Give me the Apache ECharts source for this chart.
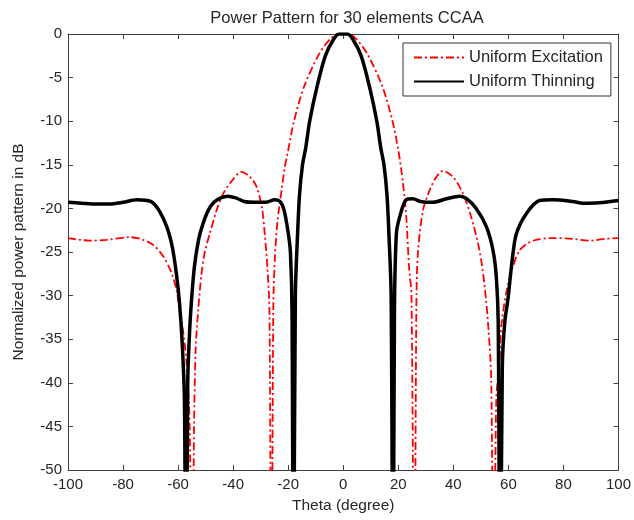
<!DOCTYPE html>
<html>
<head>
<meta charset="utf-8">
<script src="https://cdn.jsdelivr.net/npm/echarts@6/dist/echarts.min.js"></script>
<style>
  html, body { margin: 0; padding: 0; background: #fff; }
  #chart { width: 634px; height: 520px; }
</style>
</head>
<body>
<div id="chart"></div>
<script>
// Uniform Thinning (black solid)
var thinTheta = [-100, -95, -90, -85, -80, -75, -70, -67, -64, -62, -60.5, -59.5, -58.5, -57.7, -57.1, -56.5, -55.8, -55, -54, -52.5, -51, -49, -47, -44.5, -42, -39, -36, -32, -28, -25, -23, -21.5, -20, -19.2, -18.6, -18.1, -17.4, -16.6, -15.9, -14.8, -13.6, -12.2, -9.5, -6.5, -3.5, -1.5, 0,
  1.5, 3.5, 6.5, 9.5, 12.2, 13.6, 14.8, 15.9, 16.6, 17.4, 18.1, 18.6, 19.3, 20.5, 22.9, 25.3, 28, 32.6, 37.5, 42.3, 44.7, 48.3, 52, 54.4, 55.6, 56.3, 57, 57.8, 58.7, 59.8, 61.4, 62.9, 66.5, 71.3, 76.2, 83.4, 87, 93, 100];
var thinDb = [-19.3, -19.4, -19.5, -19.5, -19.3, -19.0, -19.2, -20.2, -22.2, -24.6, -27.8, -30.8, -35.5, -42, -70, -40, -34, -30, -26.5, -23.5, -21.8, -20.2, -19.3, -18.8, -18.6, -18.8, -19.2, -19.3, -19.3, -19.0, -19.2, -20.2, -22.8, -25, -32, -70, -30, -23, -18.5, -15, -13, -10, -6, -2.5, -0.6, 0, 0,
  0, -0.6, -2.5, -6, -10, -13, -15, -18.5, -23, -30, -70, -32, -22.9, -21, -19.0, -18.9, -19.2, -19.3, -18.9, -18.6, -18.85, -20, -22.1, -24.8, -27.8, -33, -70, -38, -33, -30.5, -25.9, -22.9, -20.6, -19.1, -19.0, -19.2, -19.4, -19.35, -19.1];

// Uniform Excitation (red dash-dot)
var excTheta = [-100, -92, -86, -77.5, -72.7, -69, -65.4, -62.4, -60.5, -58.4, -57, -55.8, -54.9, -54.2, -53.6, -52.7, -51.5, -50.3, -48.5, -46, -43.6, -40.6, -37, -33.9, -31.5, -29.5, -28.5, -27.5, -26.8, -26.1, -25.4, -24.8, -23.9, -22.4, -21.2, -20.1, -17.9, -14.2, -8.6, -4.5, -2, 0,
  2, 4.5, 8.6, 14.2, 17.9, 20.1, 21.7, 22.9, 23.9, 24.8, 25.8, 26.6, 27.2, 29, 31.4, 33.8, 36.2, 39.9, 43.5, 46.5, 49.5, 51.4, 52.8, 53.8, 54.6, 55.6, 56.8, 57.4, 59.2, 61.6, 64.1, 67, 70.1, 76.2, 83.4, 89.5, 95, 100];
var excDb = [-23.4, -23.7, -23.6, -23.3, -23.6, -24.2, -25.5, -27.4, -29.5, -33.6, -37.4, -45, -70, -45, -36, -31.7, -27.5, -25, -22.9, -20.2, -18.3, -16.9, -15.8, -16.4, -17.5, -20, -23, -27, -32, -70, -31, -25.5, -21.5, -17.9, -15.2, -13.5, -10, -6, -2.2, -0.5, 0, 0,
  0, -0.5, -2.2, -6, -10, -13.5, -17.1, -21, -26.7, -30.1, -70, -30.1, -24.8, -20.2, -17.9, -16.4, -15.7, -16.4, -18.3, -21, -24.8, -29, -34, -40, -70, -42, -37.4, -33.6, -29.7, -26.7, -24.8, -24, -23.6, -23.4, -23.5, -23.7, -23.5, -23.4];

function pairs(xs, ys) {
  return xs.map(function (x, i) { return [x, ys[i]] })
}

var fontFam = 'Liberation Sans, Arial, sans-serif'
var axisCol = '#404040'
var txtCol = '#262626'

var chart = echarts.init(document.getElementById('chart'), null, { renderer: 'canvas' })

var baseX = {
  type: 'value', min: -100, max: 100, interval: 20,
  axisLine: { show: true, onZero: false, lineStyle: { color: axisCol, width: 1 } },
  axisTick: { show: true, inside: true, length: 5, lineStyle: { color: axisCol } },
  splitLine: { show: false }
}
var baseY = {
  type: 'value', min: -50, max: 0, interval: 5,
  axisLine: { show: true, onZero: false, lineStyle: { color: axisCol, width: 1 } },
  axisTick: { show: true, inside: true, length: 5, lineStyle: { color: axisCol } },
  splitLine: { show: false }
}

var option = {
  backgroundColor: '#ffffff',
  animation: false,
  title: {
    text: 'Power Pattern for 30 elements CCAA',
    left: 342, top: 5, textAlign: 'center',
    textStyle: { fontFamily: fontFam, fontSize: 16.5, fontWeight: 'normal', color: txtCol }
  },
  grid: { left: 68, right: 15, top: 34, bottom: 50, containLabel: false },
  legend: {
    left: 403, top: 43,
    orient: 'vertical',
    padding: [6, 8, 6, 10],
    itemWidth: 50, itemHeight: 14, itemGap: 7,
    borderColor: '#333', borderWidth: 1, backgroundColor: '#fff',
    itemStyle: { opacity: 0 },
    textStyle: { fontFamily: fontFam, fontSize: 16.5, color: txtCol },
    data: ['Uniform Excitation', 'Uniform Thinning']
  },
  xAxis: [
    Object.assign({}, baseX, {
      position: 'bottom',
      name: 'Theta (degree)', nameLocation: 'middle', nameGap: 28,
      nameTextStyle: { fontFamily: fontFam, fontSize: 15.5, color: txtCol },
      axisLabel: { fontFamily: fontFam, fontSize: 15, color: txtCol, margin: 7 }
    }),
    Object.assign({}, baseX, { position: 'top', axisLabel: { show: false } })
  ],
  yAxis: [
    Object.assign({}, baseY, {
      position: 'left',
      name: 'Normalized power pattern in dB', nameLocation: 'middle', nameGap: 41,
      nameTextStyle: { fontFamily: fontFam, fontSize: 15.5, color: txtCol },
      axisLabel: { fontFamily: fontFam, fontSize: 15, color: txtCol, margin: 6 }
    }),
    Object.assign({}, baseY, { position: 'right', axisLabel: { show: false } })
  ],
  series: [
    {
      name: 'Uniform Excitation', type: 'line',
      xAxisIndex: 0, yAxisIndex: 0,
      data: pairs(excTheta, excDb),
      symbol: 'none', smooth: 0.3, clip: true,
      lineStyle: { color: '#ff0000', width: 1.8, type: [8, 3, 2, 3] },
      itemStyle: { color: '#ff0000' }
    },
    {
      name: 'Uniform Thinning', type: 'line',
      xAxisIndex: 0, yAxisIndex: 0,
      data: pairs(thinTheta, thinDb),
      symbol: 'none', smooth: 0.3, clip: true,
      lineStyle: { color: '#000000', width: 3.5 },
      itemStyle: { color: '#000000' }
    }
  ]
}
chart.setOption(option)
</script>
</body>
</html>
